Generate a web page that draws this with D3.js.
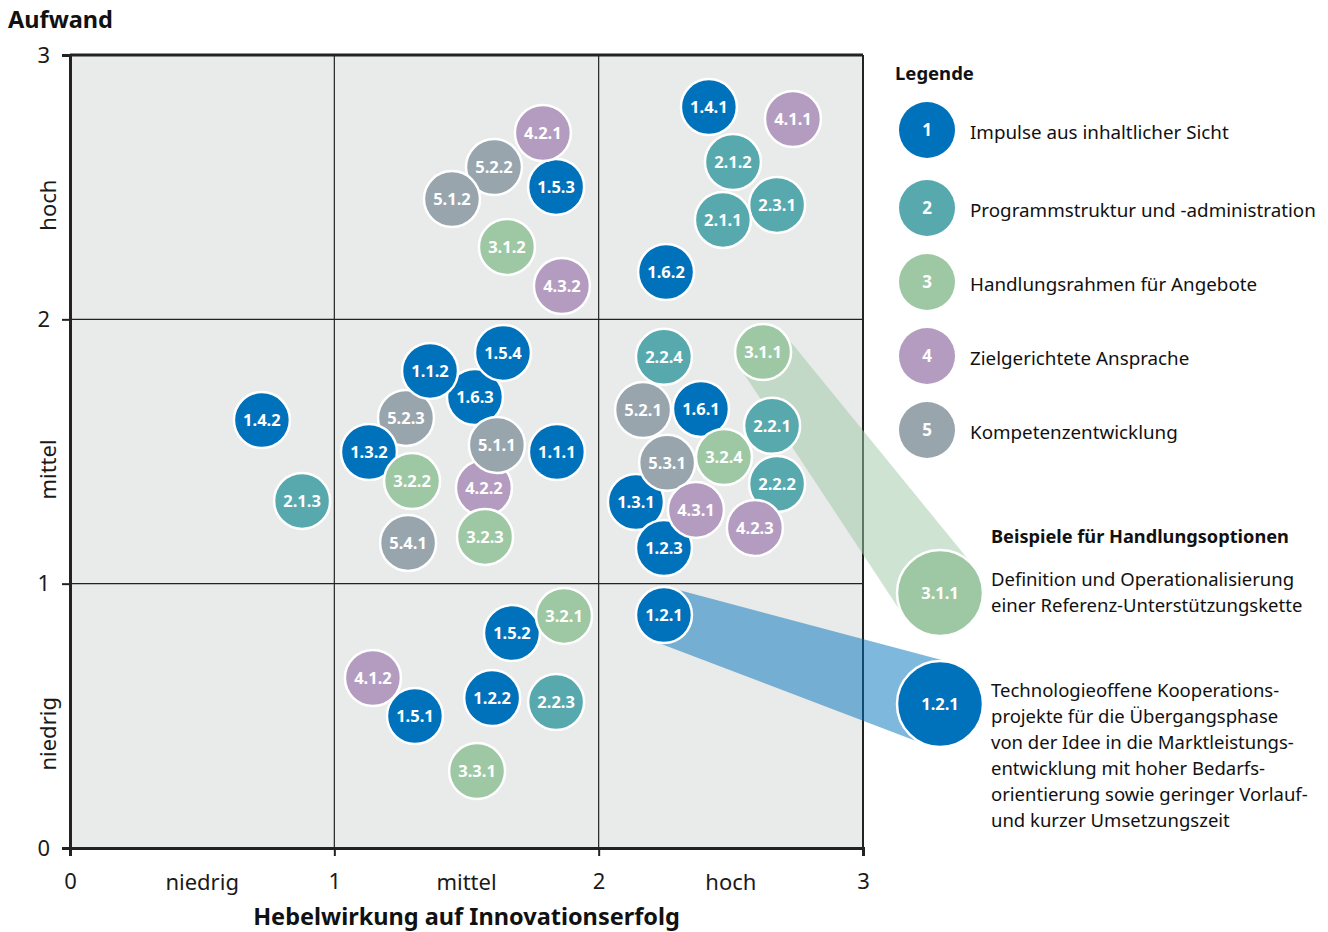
<!DOCTYPE html>
<html lang="de">
<head>
    <meta charset="UTF-8">
    <title>Aufwand und Hebelwirkung</title>
    <style>
        body {
            margin: 0;
            background-color: #ffffff;
            font-family: "Noto Sans", sans-serif;
        }
        .axis path, .axis line {
            stroke: #222;
        }
        .axis text {
            font-family: "Noto Sans", sans-serif;
            font-size: 22px;
            fill: #1a1a1a;
        }
        .level {
            font-size: 22px;
            fill: #1a1a1a;
        }
        .title {
            font-size: 23.5px;
            font-weight: bold;
            fill: #111;
        }
        .bubble-label {
            font-size: 16.5px;
            font-weight: bold;
            fill: #fff;
        }
        .legend-text {
            font-size: 18.8px;
            fill: #111;
        }
        .example-text {
            font-size: 18.5px;
            fill: #111;
        }
    </style>
</head>
<body>
    <svg width="1328" height="932"></svg>
    <script src="https://cdn.jsdelivr.net/npm/d3@7"></script>
    <script>
        // categories
        const categoryIds = ["1", "2", "3", "4", "5"];
        const categoryNames = [
            "Impulse aus inhaltlicher Sicht",
            "Programmstruktur und -administration",
            "Handlungsrahmen für Angebote",
            "Zielgerichtete Ansprache",
            "Kompetenzentwicklung"
        ];

        // measures (draw order = array order)
        const measureIds = [
            "5.2.2", "5.1.2", "1.5.3", "4.2.1", "3.1.2", "4.3.2",
            "1.4.1", "4.1.1", "2.1.2", "2.3.1", "2.1.1", "1.6.2",
            "1.4.2", "2.1.3", "5.2.3", "1.6.3", "1.1.2", "1.5.4", "1.3.2",
            "4.2.2", "5.1.1", "1.1.1", "3.2.2", "5.4.1", "3.2.3",
            "2.2.4", "3.1.1", "1.3.1", "1.2.3", "5.2.1", "1.6.1", "2.2.1", "3.2.4",
            "5.3.1", "2.2.2", "4.3.1", "4.2.3",
            "1.2.1", "1.5.2", "3.2.1", "4.1.2", "1.5.1", "1.2.2", "2.2.3", "3.3.1"
        ];
        // Hebelwirkung auf Innovationserfolg
        const impactValues = [
            1.604, 1.445, 1.839, 1.789, 1.653, 1.861,
            2.417, 2.735, 2.508, 2.675, 2.470, 2.255,
            0.726, 0.878, 1.271, 1.532, 1.362, 1.638, 1.131,
            1.566, 1.615, 1.842, 1.294, 1.279, 1.570,
            2.247, 2.622, 2.141, 2.247, 2.168, 2.387, 2.656, 2.474,
            2.259, 2.675, 2.368, 2.591,
            2.247, 1.672, 1.869, 1.146, 1.305, 1.597, 1.839, 1.540
        ];
        // Aufwand
        const effortValues = [
            2.576, 2.455, 2.501, 2.705, 2.274, 2.126,
            2.803, 2.758, 2.595, 2.433, 2.376, 2.179,
            1.619, 1.313, 1.627, 1.706, 1.805, 1.873, 1.498,
            1.362, 1.525, 1.498, 1.388, 1.154, 1.177,
            1.858, 1.876, 1.309, 1.135, 1.657, 1.661, 1.597, 1.479,
            1.457, 1.377, 1.279, 1.211,
            0.881, 0.813, 0.878, 0.643, 0.499, 0.567, 0.552, 0.291
        ];

        const tickValues = [0, 1, 2, 3];
        const levelLabels = ["niedrig", "mittel", "hoch"];

        // Beispiele für Handlungsoptionen
        const exampleIds = ["3.1.1", "1.2.1"];
        const exampleTexts = [
            ["Definition und Operationalisierung", "einer Referenz-Unterstützungskette"],
            ["Technologieoffene Kooperations-", "projekte für die Übergangsphase",
             "von der Idee in die Marktleistungs-", "entwicklung mit hoher Bedarfs-",
             "orientierung sowie geringer Vorlauf-", "und kurzer Umsetzungszeit"]
        ];

        const svg = d3.select("svg");
        const margin = { left: 70, top: 55, right: 863, bottom: 848 };

        const x = d3.scaleLinear().domain([0, 3]).range([margin.left, margin.right]);
        const y = d3.scaleLinear().domain([0, 3]).range([margin.bottom, margin.top]);

        const color = d3.scaleOrdinal()
            .domain(categoryIds)
            .range(["#0072bb", "#57a9ae", "#9ec8a4", "#b49cc1", "#98a5ad"]);

        const bubbles = measureIds.map((id, i) => ({
            id: id,
            cat: id.split(".")[0],
            x: impactValues[i],
            y: effortValues[i]
        }));

        // plot background + grid
        svg.append("rect")
            .attr("x", x(0)).attr("y", y(3))
            .attr("width", x(3) - x(0)).attr("height", y(0) - y(3))
            .attr("fill", "#e9ebea");

        svg.append("g").selectAll("line.gx")
            .data([1, 2])
            .join("line")
            .attr("x1", d => x(d)).attr("x2", d => x(d))
            .attr("y1", y(0)).attr("y2", y(3))
            .attr("stroke", "#222").attr("stroke-width", 1.2);

        svg.append("g").selectAll("line.gy")
            .data([1, 2])
            .join("line")
            .attr("x1", x(0)).attr("x2", x(3))
            .attr("y1", d => y(d)).attr("y2", d => y(d))
            .attr("stroke", "#222").attr("stroke-width", 1.2);

        // frame: right thinner, top thick
        svg.append("line")
            .attr("x1", x(3)).attr("x2", x(3)).attr("y1", y(0)).attr("y2", y(3))
            .attr("stroke", "#222").attr("stroke-width", 2);
        svg.append("line")
            .attr("x1", x(0)).attr("x2", x(3)).attr("y1", y(3)).attr("y2", y(3))
            .attr("stroke", "#222").attr("stroke-width", 3);

        // axes
        const xAxis = svg.append("g")
            .attr("class", "axis")
            .attr("transform", `translate(0,${y(0)})`)
            .call(d3.axisBottom(x).tickValues(tickValues).tickSize(8).tickPadding(17).tickFormat(d3.format("d")));
        xAxis.select(".domain").attr("stroke-width", 3);
        xAxis.selectAll(".tick line").attr("stroke-width", 2);

        const yAxis = svg.append("g")
            .attr("class", "axis")
            .attr("transform", `translate(${x(0)},0)`)
            .call(d3.axisLeft(y).tickValues(tickValues).tickSize(8).tickPadding(12).tickFormat(d3.format("d")));
        yAxis.select(".domain").attr("stroke-width", 3);
        yAxis.selectAll(".tick line").attr("stroke-width", 2);

        // level labels
        svg.append("g").selectAll("text")
            .data(levelLabels)
            .join("text")
            .attr("class", "level")
            .attr("x", (d, i) => x(i + 0.5))
            .attr("y", y(0) + 42)
            .attr("text-anchor", "middle")
            .text(d => d);

        svg.append("g").selectAll("text")
            .data(levelLabels)
            .join("text")
            .attr("class", "level")
            .attr("transform", (d, i) => `translate(56,${y(i + 0.5) + 18}) rotate(-90)`)
            .attr("text-anchor", "middle")
            .text(d => d);

        svg.append("text")
            .attr("class", "title")
            .attr("x", 8).attr("y", 28)
            .text("Aufwand");

        svg.append("text")
            .attr("class", "title")
            .attr("x", x(1.5)).attr("y", 925)
            .attr("text-anchor", "middle")
            .text("Hebelwirkung auf Innovationserfolg");

        // connector bands from bubble to example circle
        const r = 28;
        const bigR = 43;
        const exampleY = [593, 704];
        const exampleX = 940;

        function bandPath(c1, r1, c2, r2) {
            const dx = c2[0] - c1[0], dy = c2[1] - c1[1];
            const L = Math.hypot(dx, dy);
            const th = Math.atan2(dy, dx);
            const a = Math.acos((r1 - r2) / L);
            const p = (c, rr, ang) => [c[0] + rr * Math.cos(ang), c[1] + rr * Math.sin(ang)];
            return d3.line()([p(c1, r1, th + a), p(c2, r2, th + a), p(c2, r2, th - a), p(c1, r1, th - a)]) + "Z";
        }

        exampleIds.forEach((id, i) => {
            const b = bubbles.find(d => d.id === id);
            svg.append("path")
                .attr("d", bandPath([x(b.x), y(b.y)], r, [exampleX, exampleY[i]], bigR))
                .attr("fill", color(b.cat))
                .attr("fill-opacity", 0.5);
        });

        // bubbles
        const g = svg.append("g").selectAll("g")
            .data(bubbles)
            .join("g")
            .attr("transform", d => `translate(${x(d.x)},${y(d.y)})`);

        g.append("circle")
            .attr("r", r)
            .attr("fill", d => color(d.cat))
            .attr("stroke", "#fff")
            .attr("stroke-width", 2.5);

        g.append("text")
            .attr("class", "bubble-label")
            .attr("text-anchor", "middle")
            .attr("dy", "0.36em")
            .text(d => d.id);

        // example circles + text
        svg.append("text")
            .attr("class", "title")
            .style("font-size", "18.2px")
            .attr("x", 991).attr("y", 543)
            .text("Beispiele für Handlungsoptionen");

        exampleIds.forEach((id, i) => {
            const cat = id.split(".")[0];
            svg.append("circle")
                .attr("cx", exampleX).attr("cy", exampleY[i]).attr("r", bigR)
                .attr("fill", color(cat))
                .attr("stroke", "#fff").attr("stroke-width", 2.5);
            svg.append("text")
                .attr("class", "bubble-label")
                .attr("x", exampleX).attr("y", exampleY[i])
                .attr("dy", "0.36em")
                .attr("text-anchor", "middle")
                .text(id);
            svg.append("text")
                .attr("class", "example-text")
                .selectAll("tspan")
                .data(exampleTexts[i])
                .join("tspan")
                .attr("x", 991)
                .attr("y", (d, j) => exampleY[i] - 7 + j * 26)
                .text(d => d);
        });

        // legend
        svg.append("text")
            .attr("class", "title")
            .style("font-size", "18.5px")
            .attr("x", 895).attr("y", 80)
            .text("Legende");

        const legendY = [130, 208, 282, 356, 430];
        const lg = svg.append("g").selectAll("g")
            .data(categoryIds)
            .join("g")
            .attr("transform", (d, i) => `translate(927,${legendY[i]})`);

        lg.append("circle")
            .attr("r", 28)
            .attr("fill", d => color(d));

        lg.append("text")
            .attr("class", "bubble-label")
            .style("font-size", "17px")
            .attr("text-anchor", "middle")
            .attr("dy", "0.36em")
            .text(d => d);

        lg.append("text")
            .attr("class", "legend-text")
            .attr("x", 43)
            .attr("dy", "0.5em")
            .text((d, i) => categoryNames[i]);
    </script>
</body>
</html>
